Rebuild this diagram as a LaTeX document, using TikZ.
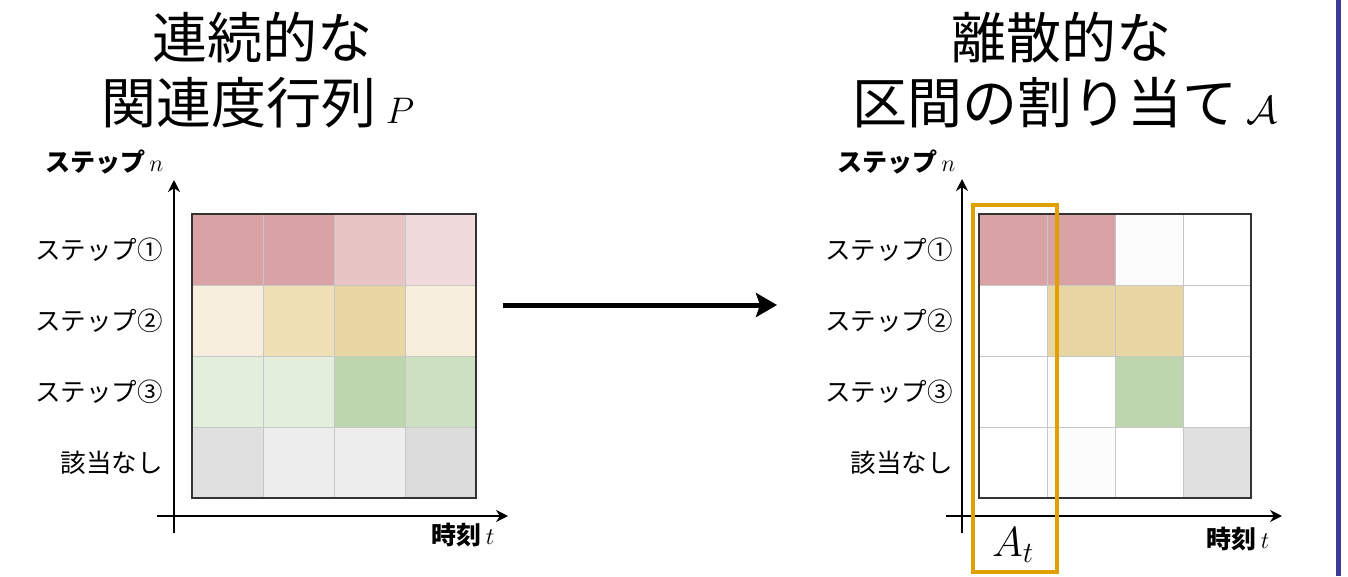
\RequirePackage{fix-cm}
\documentclass[tikz,border=0pt]{standalone}
\usepackage{fontspec}
\setmainfont{Noto Sans CJK JP}
\usetikzlibrary{arrows.meta}
\definecolor{cR}{HTML}{D9A3A5}
\definecolor{cRm}{HTML}{E8C4C5}
\definecolor{cRl}{HTML}{F0DADB}
\definecolor{cYl}{HTML}{F7EFDC}
\definecolor{cYm}{HTML}{EEDFB5}
\definecolor{cY}{HTML}{E8D6A3}
\definecolor{cGl}{HTML}{E3EEDD}
\definecolor{cG}{HTML}{BDD6AE}
\definecolor{cGm}{HTML}{CDE0C2}
\definecolor{cK}{HTML}{E0E0E0}
\definecolor{cKl}{HTML}{EDEDED}
\definecolor{cKd}{HTML}{DCDCDC}
\definecolor{cW}{HTML}{FFFFFF}
\definecolor{cWg}{HTML}{FCFCFC}
\definecolor{frameC}{HTML}{333333}
\definecolor{orangeC}{HTML}{E0A100}
\definecolor{blueC}{HTML}{3A3A9A}
\begin{document}
\begin{tikzpicture}[x=1pt,y=-1pt,
  cell/.style={draw=black!22, line width=1pt, inner sep=0pt, outer sep=0pt},
  frame/.style={draw=frameC, line width=2.5pt},
  axis/.style={line width=2.5pt, -{Stealth[length=12pt,width=12pt]}},
  bigarrow/.style={line width=5pt, -{Stealth[length=21pt,width=24pt,inset=4pt]}},
  title/.style={font=\fontsize{55}{62}\selectfont, inner sep=0pt},
  rowlab/.style={font=\fontsize{25.5}{30}\selectfont, anchor=east, inner sep=0pt},
  axlab/.style={font=\bfseries\fontsize{25}{30}\selectfont, inner sep=0pt},
  sel/.style={draw=orangeC, line width=4pt}
]
\useasboundingbox (0,0) rectangle (1348,576);

% left grid
\foreach \r/\cols in {0/{cR,cR,cRm,cRl},1/{cYl,cYm,cY,cYl},2/{cGl,cGl,cG,cGm},3/{cK,cKl,cKl,cKd}}{
  \foreach \col [count=\c from 0] in \cols {
    \node[cell, fill=\col, minimum width=71pt, minimum height=71pt] (L-\r-\c) at ({192+35.5+71*\c},{214+35.5+71*\r}) {};
  }
}
\draw[frame] (L-0-0.north west) rectangle (L-3-3.south east);

% right grid
\foreach \r/\cols in {0/{cR,cR,cWg,cW},1/{cW,cY,cY,cW},2/{cW,cW,cG,cW},3/{cW,cWg,cW,cK}}{
  \foreach \col [count=\c from 0] in \cols {
    \node[cell, fill=\col, minimum width=68pt, minimum height=71pt] (R-\r-\c) at ({979+34+68*\c},{214+35.5+71*\r}) {};
  }
}
\draw[frame] (R-0-0.north west) rectangle (R-3-3.south east);

% axes
\coordinate (LyB) at (174,533); \coordinate (LyT) at (174,180);
\coordinate (LxL) at (157,516); \coordinate (LxR) at (508,516);
\draw[axis] (LyB) -- (LyT);
\draw[axis] (LxL) -- (LxR);
\coordinate (RyB) at (962,533); \coordinate (RyT) at (962,179);
\coordinate (RxL) at (946,516); \coordinate (RxR) at (1282,516);
\draw[axis] (RyB) -- (RyT);
\draw[axis] (RxL) -- (RxR);

% axis labels
\node[axlab, anchor=west] (LyLab) at (45,162) {ステップ\,{\fontsize{24}{26}\selectfont$n$}};
\node[axlab, anchor=west] (RyLab) at (837,162) {ステップ\,{\fontsize{24}{26}\selectfont$n$}};
\node[axlab] (LxLab) at (463,535) {時刻\,{\fontsize{24}{26}\selectfont$t$}};
\node[axlab] (RxLab) at (1238,539) {時刻\,{\fontsize{24}{26}\selectfont$t$}};

% row labels
\foreach \lab [count=\i from 0] in {ステップ①,ステップ②,ステップ③,該当なし}{
  \node[rowlab] (LL-\i) at (163,{249.5+71*\i}) {\lab};
  \node[rowlab] (RL-\i) at (953,{249.5+71*\i}) {\lab};
}

% titles
\node[title] (tL1) at (262,38) {連続的な};
\node[title] (tL2) at (258,103) {関連度行列\,{\fontsize{37}{40}\selectfont$P$}};
\node[title] (tR1) at (1061,38) {離散的な};
\node[title] (tR2) at (1065,103) {区間の割り当て\,{\fontsize{39}{40}\selectfont$\mathcal{A}$}};

% main arrow
\coordinate (aS) at (503,305);
\coordinate (aE) at (777,305);
\draw[bigarrow] (aS) -- (aE);

% selection box
\node[sel, minimum width=84pt, minimum height=367pt, inner sep=0pt] (sel) at (1015,388.5) {};
\node[font=\fontsize{42}{46}\selectfont, inner sep=0pt] (At) at (1013,545) {$A_t$};

% right border line
\coordinate (bT) at (1338,0); \coordinate (bB) at (1338,576);
\draw[blueC, line width=5pt] (bT) -- (bB);
\end{tikzpicture}
\end{document}
